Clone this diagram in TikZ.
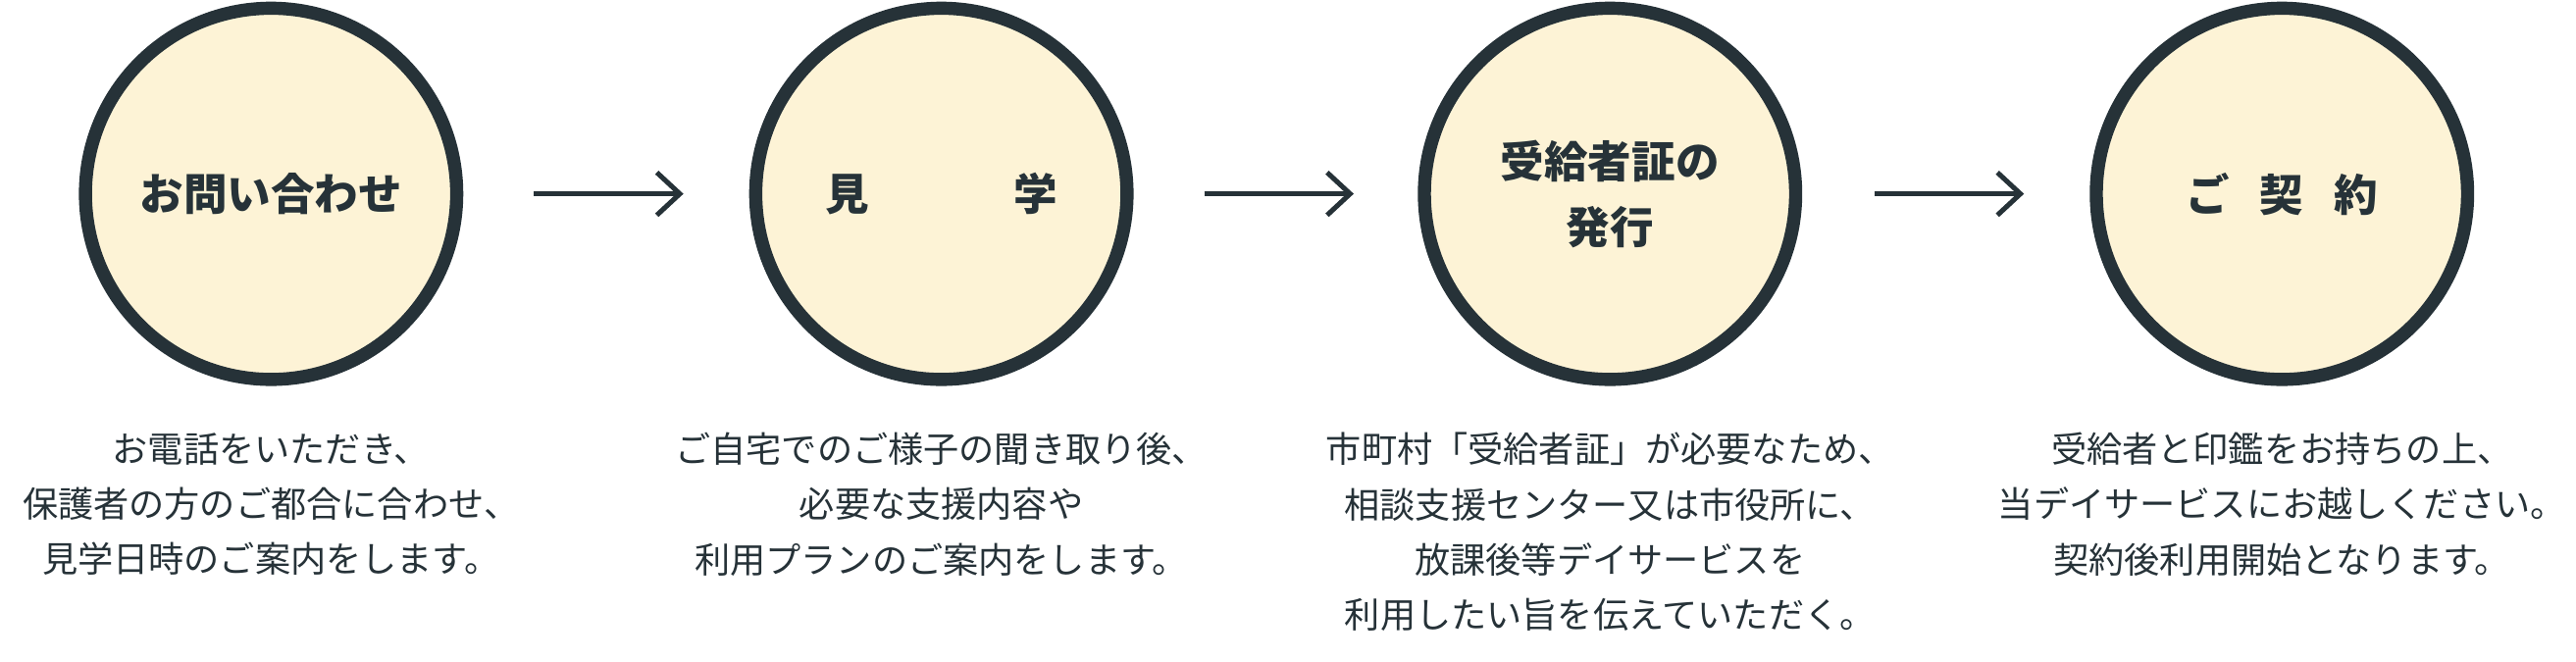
\documentclass[tikz,border=0pt]{standalone}
\usepackage{fontspec}
\usetikzlibrary{arrows.meta}
\newfontfamily\cjk{Noto Sans CJK JP}
\definecolor{ink}{HTML}{263238}
\definecolor{cream}{HTML}{FDF3D6}
\begin{document}
\begin{tikzpicture}[x=0.5pt,y=-0.5pt,
  stepc/.style={circle,draw=ink,fill=cream,line width=4pt,minimum size=113pt,inner sep=0pt,
    font=\cjk\bfseries\fontsize{13.3}{20}\selectfont,text=ink,align=center},
  desc/.style={font=\cjk\fontsize{10.8}{16.8}\selectfont,text=ink,align=center},
  arr/.style={draw=ink,line width=1.5pt,-{Straight Barb[length=7pt,width=13pt]}}]
\useasboundingbox (0,0) rectangle (1568,403);
\node[stepc] (c1) at (165,118) {お問い合わせ};
\node[stepc] (c2) at (573,118) {見\hspace{3.3em}学};
\node[stepc] (c3) at (980,118) {受給者証の\\発行};
\node[stepc] (c4) at (1389,118) {ご\hspace{0.7em}契\hspace{0.7em}約};
\coordinate (a1s) at (325,118); \coordinate (a1e) at (416,118);
\coordinate (a2s) at (733,118); \coordinate (a2e) at (824,118);
\coordinate (a3s) at (1141,118); \coordinate (a3e) at (1232,118);
\draw[arr] (a1s) -- (a1e);
\draw[arr] (a2s) -- (a2e);
\draw[arr] (a3s) -- (a3e);
\node[desc] (d1) at (165,307) {お電話をいただき、\\保護者の方のご都合に合わせ、\\見学日時のご案内をします。};
\node[desc] (d2) at (573,307) {ご自宅でのご様子の聞き取り後、\\必要な支援内容や\\利用プランのご案内をします。};
\node[desc] (d3) at (980,324) {市町村「受給者証」が必要なため、\\相談支援センター又は市役所に、\\放課後等デイサービスを\\利用したい旨を伝えていただく。};
\node[desc] (d4) at (1389,307) {受給者と印鑑をお持ちの上、\\当デイサービスにお越しください。\\契約後利用開始となります。};
\end{tikzpicture}
\end{document}
